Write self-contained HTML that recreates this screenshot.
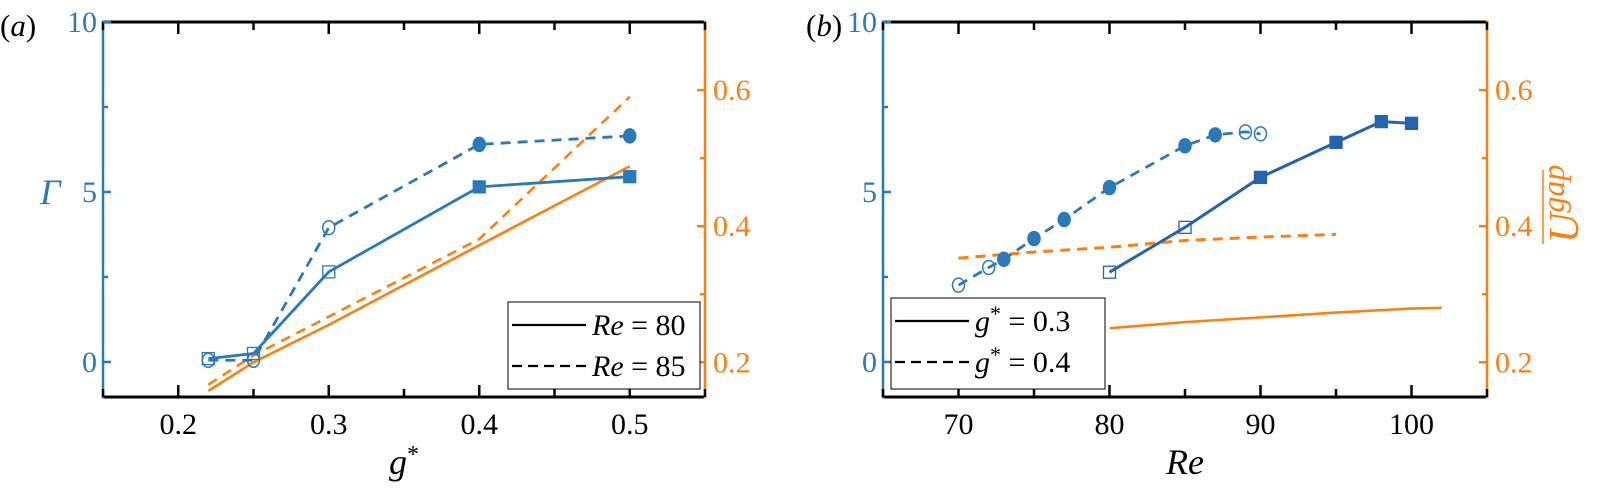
<!DOCTYPE html>
<html><head><meta charset="utf-8"><style>
html,body{margin:0;padding:0;background:#fff;}
svg{display:block;}
svg text{font-family:"Liberation Serif","DejaVu Serif","Noto Serif CJK SC",serif;}
</style></head><body>
<svg id="chart" width="1600" height="497" viewBox="0 0 1600 497" xmlns="http://www.w3.org/2000/svg"></svg>
<script>
// ---------- data ----------
const gA = [0.22, 0.25, 0.3, 0.4, 0.5];
const gammaRe80 = [0.1, 0.25, 2.65, 5.15, 5.45];
const filledRe80 = [false, false, false, true, true];
const gammaRe85 = [0.05, 0.05, 3.95, 6.4, 6.65];
const filledRe85 = [false, false, false, true, true];
const ugapRe80 = [0.158, 0.2, 0.255, 0.372, 0.488];
const ugapRe85 = [0.167, 0.21, 0.267, 0.381, 0.59];

const reG04 = [70, 72, 73, 75, 77, 80, 85, 87, 89, 90];
const gammaG04 = [2.26, 2.78, 3.02, 3.63, 4.19, 5.13, 6.36, 6.68, 6.77, 6.71];
const filledG04 = [false, false, true, true, true, true, true, true, false, false];
const reG03 = [80, 85, 90, 95, 98, 100];
const gammaG03 = [2.64, 3.96, 5.43, 6.46, 7.07, 7.02];
const filledG03 = [false, false, true, true, true, true];
const ugapReG04 = [70, 75, 80, 85, 90, 95];
const ugapG04 = [0.353, 0.362, 0.369, 0.379, 0.384, 0.388];
const ugapReG03 = [80, 85, 90, 95, 100, 102];
const ugapG03 = [0.25, 0.259, 0.266, 0.273, 0.279, 0.28];

const xTicksA = [0.2, 0.3, 0.4, 0.5];
const xTicksB = [70, 80, 90, 100];
const yTicksL = [0, 5, 10];
const yTicksR = [0.2, 0.4, 0.6];

// ---------- helpers ----------
const NS = "http://www.w3.org/2000/svg";
const svg = document.getElementById('chart');
const FONT = '"Liberation Serif", "DejaVu Serif", serif';
function mk(tag, attrs, parent) {
  const e = document.createElementNS(NS, tag);
  for (const k in attrs) e.setAttribute(k, attrs[k]);
  if (tag === 'text') e.style.fontFamily = FONT;
  (parent || svg).appendChild(e);
  return e;
}
const BLUE = '#2a7ab8', BLUE2 = '#2463ae', ORANGE = '#ff7f0e';
const TOP = 22, BOT = 397;
const yL = v => BOT - (v - (-1.03)) / (10 - (-1.03)) * (BOT - TOP);
const yR = v => BOT - (v - 0.149) / (0.7 - 0.149) * (BOT - TOP);

function panel(opt) {
  const g = mk('g', {});
  
  
  const x = v => opt.x0 + (v - opt.xmin) / (opt.xmax - opt.xmin) * (opt.x1 - opt.x0);
  function line(xs, ys, sc, color, dash, w, nm) {
    const p = mk('polyline', {points: xs.map((v, i) => x(v) + ',' + sc(ys[i])).join(' '), fill: 'none', stroke: color, 'stroke-width': w, 'stroke-dasharray': dash || 'none'}, g);
    
    
  }
  function markers(xs, ys, filled, shape, color, nm) {
    xs.forEach((v, i) => {
      const cx = x(v), cy = yL(ys[i]);
      let m;
      if (shape === 'sq') m = mk('rect', {x: cx - 6, y: cy - 6, width: 12, height: 12, fill: filled[i] ? color : '#fff', 'fill-opacity': filled[i] ? 1 : 0, stroke: color, 'stroke-width': 1.3}, g);
      else m = mk('ellipse', {cx: cx, cy: cy, rx: 6, ry: 7, fill: filled[i] ? color : '#fff', 'fill-opacity': filled[i] ? 1 : 0, stroke: color, 'stroke-width': 1.5}, g);
      
      
    });
  }
  opt.series(line, markers);
  const ax = mk('g', {}, g);
  
  
  mk('line', {x1: opt.x0, y1: TOP, x2: opt.x1, y2: TOP, stroke: '#000', 'stroke-width': 3}, ax);
  mk('line', {x1: opt.x0, y1: BOT, x2: opt.x1, y2: BOT, stroke: '#000', 'stroke-width': 3}, ax);
  mk('line', {x1: opt.x0, y1: TOP - 1.5, x2: opt.x0, y2: BOT + 1.5, stroke: BLUE, 'stroke-width': 2.5}, ax);
  mk('line', {x1: opt.x1, y1: TOP - 1.5, x2: opt.x1, y2: BOT + 1.5, stroke: ORANGE, 'stroke-width': 2.5}, ax);
  const xt = opt.xticks, step = xt[1] - xt[0];
  for (let v = xt[0] - step / 2; v <= opt.xmax + 1e-9; v += step / 2) {
    if (v < opt.xmin - 1e-9) continue;
    const major = xt.some(t => Math.abs(t - v) < 1e-9);
    const L = major ? 12 : 8;
    mk('line', {x1: x(v), y1: TOP, x2: x(v), y2: TOP + L, stroke: '#000', 'stroke-width': 2.5}, ax);
    mk('line', {x1: x(v), y1: BOT, x2: x(v), y2: BOT - L, stroke: '#000', 'stroke-width': 2.5}, ax);
  }
  xt.forEach(t => {
    const tx = mk('text', {x: x(t), y: 434, 'text-anchor': 'middle', 'font-size': 30, fill: '#000'}, ax);
    tx.textContent = String(t);
    
    
  });
  [0, 2.5, 5, 7.5, 10].forEach(v => {
    mk('line', {x1: opt.x0, y1: yL(v), x2: opt.x0 + (v % 5 === 0 ? 8 : 5), y2: yL(v), stroke: BLUE, 'stroke-width': 2.5}, ax);
  });
  yTicksL.forEach(t => {
    const tx = mk('text', {x: opt.x0 - 6, y: yL(t) + 10, 'text-anchor': 'end', 'font-size': 30, fill: BLUE}, ax);
    tx.textContent = String(t);
    
    
  });
  [0.2, 0.3, 0.4, 0.5, 0.6].forEach(v => {
    mk('line', {x1: opt.x1, y1: yR(v), x2: opt.x1 - (Math.round(v * 10) % 2 === 0 ? 8 : 5), y2: yR(v), stroke: ORANGE, 'stroke-width': 2.5}, ax);
  });
  yTicksR.forEach(t => {
    const tx = mk('text', {x: opt.x1 + 8, y: yR(t) + 10, 'font-size': 30, fill: ORANGE}, ax);
    tx.textContent = String(t);
    
    
  });
  const lg = mk('g', {}, g);
  
  
  const L = opt.legend;
  mk('rect', {x: L.x, y: L.y, width: L.w, height: L.h, fill: '#fff', stroke: '#000', 'stroke-width': 1}, lg);
  L.items.forEach((it, i) => {
    const ly = L.y + 23 + i * 41;
    mk('line', {x1: L.x + 4, y1: ly, x2: L.x + 78, y2: ly, stroke: '#000', 'stroke-width': 2.2, 'stroke-dasharray': it.dash || 'none'}, lg);
    const t = mk('text', {x: L.x + 84, y: ly + 10, 'font-size': 30, fill: '#000'}, lg);
    t.innerHTML = it.html;
    
    
  });
  const pl = mk('text', {x: opt.plx, y: 36, 'font-size': 31, fill: '#000'}, g);
  pl.innerHTML = opt.plabel;
  
  
  const xl = mk('text', {x: (opt.x0 + opt.x1) / 2, y: 474, 'text-anchor': 'middle', 'font-size': 36, 'font-style': 'italic', fill: '#000'}, g);
  xl.innerHTML = opt.xlabel;
  
  
}

panel({
  name: 'panel-a', x0: 103, x1: 705, xmin: 0.15, xmax: 0.55, xticks: xTicksA,
  plx: 0, plabel: '(<tspan font-style="italic">a</tspan>)',
  xlabel: 'g<tspan font-style="normal" font-size="24" dy="-12">*</tspan>',
  legend: {x: 508, y: 302, w: 192, h: 87, items: [
    {html: '<tspan font-style="italic">Re</tspan> = 80'},
    {html: '<tspan font-style="italic">Re</tspan> = 85', dash: '10 6'}]},
  series: (line, markers) => {
    line(gA, ugapRe80, yR, ORANGE, null, 2.6, 'ugap-re80-line');
    line(gA, ugapRe85, yR, ORANGE, '10 7', 2.6, 'ugap-re85-line');
    line(gA, gammaRe80, yL, BLUE, null, 2.8, 'gamma-re80-line');
    line(gA, gammaRe85, yL, BLUE, '10 7', 2.8, 'gamma-re85-line');
    markers(gA, gammaRe80, filledRe80, 'sq', BLUE, 'gamma-re80-marker');
    markers(gA, gammaRe85, filledRe85, 'ci', BLUE, 'gamma-re85-marker');
  }
});
panel({
  name: 'panel-b', x0: 883, x1: 1487, xmin: 65, xmax: 105, xticks: xTicksB,
  plx: 806, plabel: '(<tspan font-style="italic">b</tspan>)',
  xlabel: 'Re',
  legend: {x: 891, y: 298, w: 214, h: 91, items: [
    {html: '<tspan font-style="italic">g</tspan><tspan font-size="22" dy="-10">*</tspan><tspan dy="10"> = 0.3</tspan>'},
    {html: '<tspan font-style="italic">g</tspan><tspan font-size="22" dy="-10">*</tspan><tspan dy="10"> = 0.4</tspan>', dash: '10 6'}]},
  series: (line, markers) => {
    line(ugapReG03, ugapG03, yR, ORANGE, null, 2.6, 'ugap-g03-line');
    line(ugapReG04, ugapG04, yR, ORANGE, '10 7', 3, 'ugap-g04-line');
    line(reG03, gammaG03, yL, BLUE2, null, 3, 'gamma-g03-line');
    line(reG04, gammaG04, yL, BLUE, '10 7', 2.8, 'gamma-g04-line');
    markers(reG03, gammaG03, filledG03, 'sq', BLUE2, 'gamma-g03-marker');
    markers(reG04, gammaG04, filledG04, 'ci', BLUE, 'gamma-g04-marker');
  }
});
const gl = mk('text', {x: 40, y: 204, 'font-size': 36, 'font-style': 'italic', fill: BLUE});
gl.textContent = 'Γ';


const ug = mk('g', {transform: 'translate(1578,207) rotate(-90)'});


mk('line', {x1: -37, y1: -35, x2: 37, y2: -35, stroke: ORANGE, 'stroke-width': 1.5}, ug);
const ut = mk('text', {x: -36, y: 0, 'font-size': 42, 'font-style': 'italic', fill: ORANGE}, ug);
ut.innerHTML = 'U<tspan font-size="32" dy="-14">gap</tspan>';
</script>
</body></html>
